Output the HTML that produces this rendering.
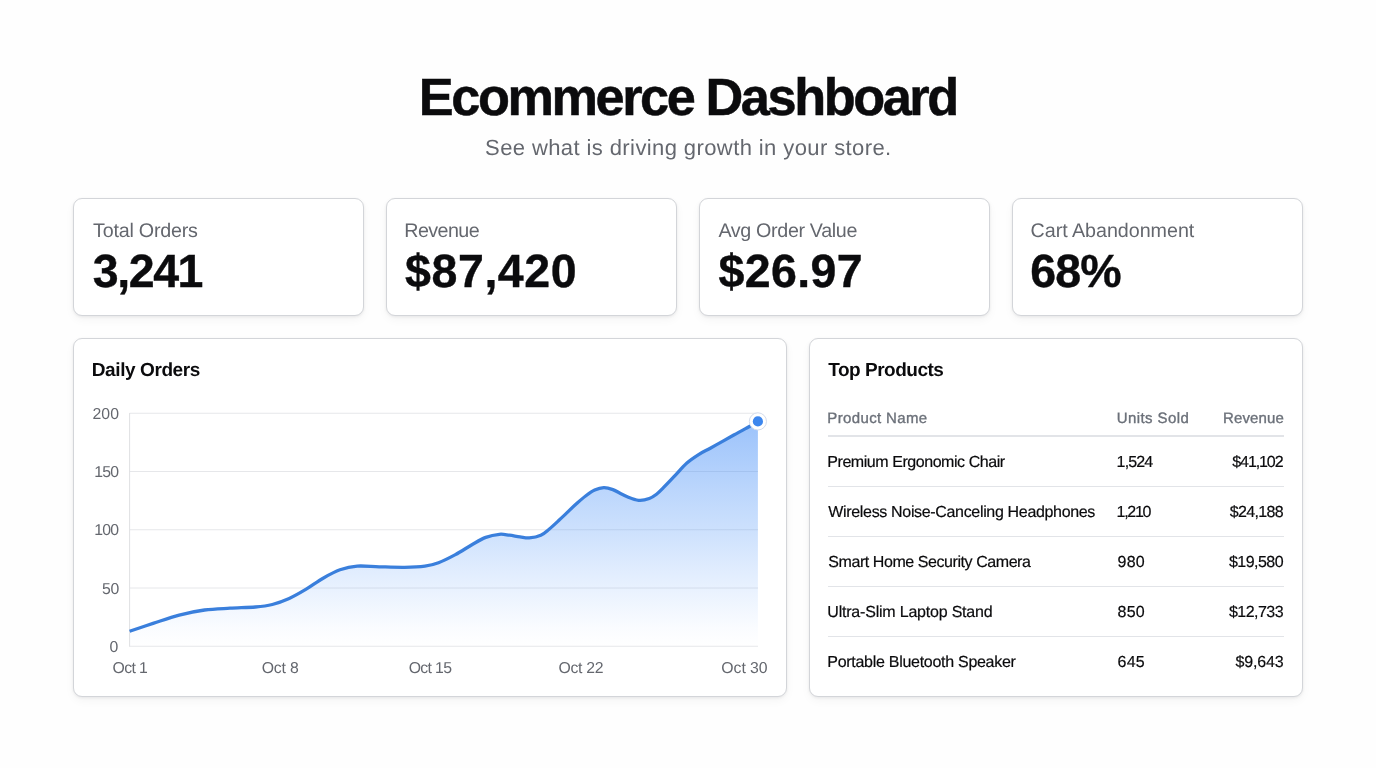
<!DOCTYPE html>
<html lang="en"><head><meta charset="utf-8"><title>Ecommerce Dashboard</title>
<style>
*{box-sizing:border-box;margin:0;padding:0}
html,body{width:1376px;height:768px;overflow:hidden;background:#fefefe;font-family:"Liberation Sans",sans-serif;text-rendering:geometricPrecision;}
.card{position:absolute;background:#fff;border:1px solid #d3d5d9;border-radius:9px;box-shadow:0 1px 3px rgba(20,20,30,0.07),0 4px 10px rgba(20,20,30,0.04);}
.t{position:absolute;white-space:nowrap;}
#txt{position:absolute;left:0;top:0;width:1376px;height:768px;will-change:transform;}
.rl{position:absolute;left:828px;width:456px;background:#e2e4e8;}
svg{position:absolute;left:0;top:0;}
</style></head><body>
<div class="card" style="left:73px;top:198px;width:291px;height:118px"></div>
<div class="card" style="left:385.6px;top:198px;width:291px;height:118px"></div>
<div class="card" style="left:698.6px;top:198px;width:291px;height:118px"></div>
<div class="card" style="left:1012px;top:198px;width:291px;height:118px"></div>
<div class="card" style="left:73px;top:338px;width:713.7px;height:359px"></div>
<div class="card" style="left:808.7px;top:338px;width:494.3px;height:359px"></div>
<svg width="1376" height="768" viewBox="0 0 1376 768">
<defs><linearGradient id="g" gradientUnits="userSpaceOnUse" x1="0" y1="421" x2="0" y2="646.2">
<stop offset="0" stop-color="#3f8af7" stop-opacity="0.52"/><stop offset="0.5" stop-color="#4a92f8" stop-opacity="0.27"/><stop offset="0.92" stop-color="#5a9bf9" stop-opacity="0.03"/><stop offset="1" stop-color="#5a9bf9" stop-opacity="0.0"/></linearGradient></defs>
<line x1="129.6" y1="413.25" x2="758.0" y2="413.25" stroke="#e6e7ea" stroke-width="1"/>
<line x1="129.6" y1="471.50" x2="758.0" y2="471.50" stroke="#e6e7ea" stroke-width="1"/>
<line x1="129.6" y1="529.75" x2="758.0" y2="529.75" stroke="#e6e7ea" stroke-width="1"/>
<line x1="129.6" y1="588.00" x2="758.0" y2="588.00" stroke="#e6e7ea" stroke-width="1"/>
<line x1="129.6" y1="646.25" x2="758.0" y2="646.25" stroke="#e6e7ea" stroke-width="1"/>
<line x1="129.6" y1="413" x2="129.6" y2="646.7" stroke="#dfe0e3" stroke-width="1"/>
<path d="M129.6,631.2 C133.6,629.9 145.5,625.8 153.8,623.1 C162.1,620.4 170.7,617.3 179.2,615.1 C187.7,612.9 196.1,611.1 204.6,610.0 C213.1,608.9 221.5,608.7 230.0,608.2 C238.5,607.7 248.3,607.6 255.4,607.0 C262.4,606.4 266.7,605.9 272.3,604.5 C277.9,603.1 283.6,601.0 289.2,598.5 C294.8,596.0 300.5,592.6 306.2,589.2 C311.9,585.8 317.5,581.4 323.1,578.2 C328.7,575.0 334.3,571.8 340.0,569.8 C345.7,567.8 350.7,566.6 357.2,566.1 C363.7,565.6 371.3,566.6 379.2,566.8 C387.1,567.0 397.0,567.4 404.6,567.3 C412.2,567.2 419.2,566.9 424.9,566.1 C430.5,565.3 433.4,564.6 438.5,562.7 C443.6,560.8 449.8,557.6 455.4,554.6 C461.0,551.6 467.2,547.4 472.3,544.5 C477.4,541.6 481.3,539.1 485.8,537.4 C490.3,535.7 495.4,534.7 499.4,534.3 C503.3,533.9 506.1,534.8 509.5,535.2 C512.9,535.6 516.7,536.5 520.0,536.9 C523.3,537.3 525.7,538.2 529.2,537.9 C532.7,537.6 537.5,536.7 540.8,535.2 C544.1,533.8 546.2,531.6 549.1,529.2 C552.0,526.8 555.2,523.8 558.2,521.0 C561.2,518.2 564.3,515.3 567.3,512.4 C570.3,509.5 573.3,506.4 576.4,503.7 C579.5,501.0 582.5,498.3 585.6,496.0 C588.7,493.7 591.7,491.5 594.7,490.1 C597.7,488.7 600.8,487.7 603.8,487.6 C606.8,487.5 609.9,488.5 612.9,489.6 C615.9,490.7 619.0,492.8 622.0,494.2 C625.0,495.6 628.1,497.3 631.1,498.3 C634.1,499.3 637.2,500.4 640.2,500.4 C643.2,500.4 646.6,499.5 649.3,498.5 C652.0,497.5 654.1,496.0 656.5,494.2 C658.9,492.4 660.3,490.8 663.4,487.6 C666.5,484.5 671.3,479.4 675.2,475.3 C679.1,471.2 683.0,466.4 686.9,463.0 C690.8,459.6 694.7,457.1 698.6,454.6 C702.5,452.1 706.4,450.4 710.3,448.2 C714.2,446.0 718.2,443.8 722.1,441.6 C726.0,439.4 729.9,437.2 733.8,435.0 C737.7,432.8 741.5,430.9 745.5,428.6 C749.5,426.4 755.8,422.7 757.9,421.5 L757.9,646.2 L129.6,646.2 Z" fill="url(#g)"/>
<path d="M129.6,631.2 C133.6,629.9 145.5,625.8 153.8,623.1 C162.1,620.4 170.7,617.3 179.2,615.1 C187.7,612.9 196.1,611.1 204.6,610.0 C213.1,608.9 221.5,608.7 230.0,608.2 C238.5,607.7 248.3,607.6 255.4,607.0 C262.4,606.4 266.7,605.9 272.3,604.5 C277.9,603.1 283.6,601.0 289.2,598.5 C294.8,596.0 300.5,592.6 306.2,589.2 C311.9,585.8 317.5,581.4 323.1,578.2 C328.7,575.0 334.3,571.8 340.0,569.8 C345.7,567.8 350.7,566.6 357.2,566.1 C363.7,565.6 371.3,566.6 379.2,566.8 C387.1,567.0 397.0,567.4 404.6,567.3 C412.2,567.2 419.2,566.9 424.9,566.1 C430.5,565.3 433.4,564.6 438.5,562.7 C443.6,560.8 449.8,557.6 455.4,554.6 C461.0,551.6 467.2,547.4 472.3,544.5 C477.4,541.6 481.3,539.1 485.8,537.4 C490.3,535.7 495.4,534.7 499.4,534.3 C503.3,533.9 506.1,534.8 509.5,535.2 C512.9,535.6 516.7,536.5 520.0,536.9 C523.3,537.3 525.7,538.2 529.2,537.9 C532.7,537.6 537.5,536.7 540.8,535.2 C544.1,533.8 546.2,531.6 549.1,529.2 C552.0,526.8 555.2,523.8 558.2,521.0 C561.2,518.2 564.3,515.3 567.3,512.4 C570.3,509.5 573.3,506.4 576.4,503.7 C579.5,501.0 582.5,498.3 585.6,496.0 C588.7,493.7 591.7,491.5 594.7,490.1 C597.7,488.7 600.8,487.7 603.8,487.6 C606.8,487.5 609.9,488.5 612.9,489.6 C615.9,490.7 619.0,492.8 622.0,494.2 C625.0,495.6 628.1,497.3 631.1,498.3 C634.1,499.3 637.2,500.4 640.2,500.4 C643.2,500.4 646.6,499.5 649.3,498.5 C652.0,497.5 654.1,496.0 656.5,494.2 C658.9,492.4 660.3,490.8 663.4,487.6 C666.5,484.5 671.3,479.4 675.2,475.3 C679.1,471.2 683.0,466.4 686.9,463.0 C690.8,459.6 694.7,457.1 698.6,454.6 C702.5,452.1 706.4,450.4 710.3,448.2 C714.2,446.0 718.2,443.8 722.1,441.6 C726.0,439.4 729.9,437.2 733.8,435.0 C737.7,432.8 741.5,430.9 745.5,428.6 C749.5,426.4 755.8,422.7 757.9,421.5" fill="none" stroke="#3a7fdc" stroke-width="3.3" stroke-linecap="butt" stroke-linejoin="round"/>
<circle cx="757.9" cy="421.4" r="8.6" fill="#fff" stroke="#d4dcec" stroke-width="1"/>
<circle cx="757.9" cy="421.4" r="5.1" fill="#3d87ee"/>
</svg>
<div class="rl" style="top:435.35px;height:1.5px"></div>
<div class="rl" style="top:485.80px;height:1.0px"></div>
<div class="rl" style="top:536.00px;height:1.0px"></div>
<div class="rl" style="top:586.10px;height:1.0px"></div>
<div class="rl" style="top:636.40px;height:1.0px"></div>

<div id="txt">
<header class="header">
<h1 class="t" style="left:418.80px;top:72px;font-size:52.3px;line-height:52.3px;font-weight:700;color:#0b0b0d;letter-spacing:-2.433px;-webkit-text-stroke:0.5px #0b0b0d;">Ecommerce Dashboard</h1>
<p class="t" style="left:485.10px;top:137px;font-size:22px;line-height:22px;font-weight:400;color:#64676e;letter-spacing:0.400px;">See what is driving growth in your store.</p>
</header>
<section class="stats">
<div class="t" style="left:93.10px;top:222px;font-size:19.7px;line-height:19.7px;font-weight:400;color:#64676e;letter-spacing:-0.218px;">Total Orders</div>
<div class="t" style="left:404.30px;top:222px;font-size:19.7px;line-height:19.7px;font-weight:400;color:#64676e;letter-spacing:-0.583px;">Revenue</div>
<div class="t" style="left:718.40px;top:222px;font-size:19.7px;line-height:19.7px;font-weight:400;color:#64676e;letter-spacing:-0.336px;">Avg Order Value</div>
<div class="t" style="left:1030.60px;top:222px;font-size:19.7px;line-height:19.7px;font-weight:400;color:#64676e;letter-spacing:-0.033px;">Cart Abandonment</div>
<div class="t" style="left:92.80px;top:248px;font-size:46.5px;line-height:46.5px;font-weight:700;color:#0b0b0d;letter-spacing:-1.425px;-webkit-text-stroke:0.4px #0b0b0d;">3,241</div>
<div class="t" style="left:405.10px;top:248px;font-size:46.5px;line-height:46.5px;font-weight:700;color:#0b0b0d;letter-spacing:0.567px;-webkit-text-stroke:0.4px #0b0b0d;">$87,420</div>
<div class="t" style="left:718.60px;top:248px;font-size:46.5px;line-height:46.5px;font-weight:700;color:#0b0b0d;letter-spacing:0.360px;-webkit-text-stroke:0.4px #0b0b0d;">$26.97</div>
<div class="t" style="left:1030.20px;top:248px;font-size:46.5px;line-height:46.5px;font-weight:700;color:#0b0b0d;letter-spacing:-0.850px;-webkit-text-stroke:0.4px #0b0b0d;">68%</div>
</section>
<section class="chart">
<h2 class="t" style="left:91.80px;top:361px;font-size:19px;line-height:19px;font-weight:700;color:#0b0b0d;letter-spacing:-0.409px;">Daily Orders</h2>
<span class="t" style="left:92.50px;top:407px;font-size:15.8px;line-height:15.8px;font-weight:400;color:#64676e;letter-spacing:0.050px;">200</span>
<span class="t" style="left:94.20px;top:465px;font-size:15.8px;line-height:15.8px;font-weight:400;color:#64676e;letter-spacing:-0.800px;">150</span>
<span class="t" style="left:94.20px;top:523px;font-size:15.8px;line-height:15.8px;font-weight:400;color:#64676e;letter-spacing:-0.800px;">100</span>
<span class="t" style="left:102.00px;top:582px;font-size:15.8px;line-height:15.8px;font-weight:400;color:#64676e;letter-spacing:-0.400px;">50</span>
<span class="t" style="left:109.60px;top:640px;font-size:15.8px;line-height:15.8px;font-weight:400;color:#64676e;">0</span>
<span class="t" style="left:112.60px;top:661px;font-size:15.8px;line-height:15.8px;font-weight:400;color:#64676e;letter-spacing:-0.625px;">Oct 1</span>
<span class="t" style="left:261.70px;top:661px;font-size:15.8px;line-height:15.8px;font-weight:400;color:#64676e;letter-spacing:-0.150px;">Oct 8</span>
<span class="t" style="left:408.70px;top:661px;font-size:15.8px;line-height:15.8px;font-weight:400;color:#64676e;letter-spacing:-0.660px;">Oct 15</span>
<span class="t" style="left:558.40px;top:661px;font-size:15.8px;line-height:15.8px;font-weight:400;color:#64676e;letter-spacing:-0.260px;">Oct 22</span>
<span class="t" style="left:721.30px;top:661px;font-size:15.8px;line-height:15.8px;font-weight:400;color:#64676e;letter-spacing:-0.040px;">Oct 30</span>
</section>
<section class="products">
<h2 class="t" style="left:828.30px;top:361px;font-size:19px;line-height:19px;font-weight:700;color:#0b0b0d;letter-spacing:-0.491px;">Top Products</h2>
<div class="t" style="left:827.30px;top:411px;font-size:15px;line-height:15px;font-weight:400;color:#6b7079;letter-spacing:0.364px;-webkit-text-stroke:0.35px #6b7079;">Product Name</div>
<div class="t" style="left:1116.70px;top:411px;font-size:15px;line-height:15px;font-weight:400;color:#6b7079;letter-spacing:0.422px;-webkit-text-stroke:0.35px #6b7079;">Units Sold</div>
<div class="t" style="left:1223.10px;top:411px;font-size:15px;line-height:15px;font-weight:400;color:#6b7079;letter-spacing:0.100px;-webkit-text-stroke:0.35px #6b7079;">Revenue</div>
<div class="t" style="left:827.30px;top:455px;font-size:16px;line-height:16px;font-weight:400;color:#0b0b0d;letter-spacing:-0.445px;-webkit-text-stroke:0.2px #0b0b0d;">Premium Ergonomic Chair</div>
<div class="t" style="left:1116.60px;top:455px;font-size:16px;line-height:16px;font-weight:400;color:#0b0b0d;letter-spacing:-0.850px;-webkit-text-stroke:0.2px #0b0b0d;">1,524</div>
<div class="t" style="left:1232.30px;top:455px;font-size:16px;line-height:16px;font-weight:400;color:#0b0b0d;letter-spacing:-1.100px;-webkit-text-stroke:0.2px #0b0b0d;">$41,102</div>
<div class="t" style="left:828.30px;top:505px;font-size:16px;line-height:16px;font-weight:400;color:#0b0b0d;letter-spacing:-0.332px;-webkit-text-stroke:0.2px #0b0b0d;">Wireless Noise-Canceling Headphones</div>
<div class="t" style="left:1116.60px;top:505px;font-size:16px;line-height:16px;font-weight:400;color:#0b0b0d;letter-spacing:-1.300px;-webkit-text-stroke:0.2px #0b0b0d;">1,210</div>
<div class="t" style="left:1229.80px;top:505px;font-size:16px;line-height:16px;font-weight:400;color:#0b0b0d;letter-spacing:-0.683px;-webkit-text-stroke:0.2px #0b0b0d;">$24,188</div>
<div class="t" style="left:828.30px;top:555px;font-size:16px;line-height:16px;font-weight:400;color:#0b0b0d;letter-spacing:-0.432px;-webkit-text-stroke:0.2px #0b0b0d;">Smart Home Security Camera</div>
<div class="t" style="left:1117.60px;top:555px;font-size:16px;line-height:16px;font-weight:400;color:#0b0b0d;letter-spacing:0.200px;-webkit-text-stroke:0.2px #0b0b0d;">980</div>
<div class="t" style="left:1229.00px;top:555px;font-size:16px;line-height:16px;font-weight:400;color:#0b0b0d;letter-spacing:-0.550px;-webkit-text-stroke:0.2px #0b0b0d;">$19,580</div>
<div class="t" style="left:827.30px;top:605px;font-size:16px;line-height:16px;font-weight:400;color:#0b0b0d;letter-spacing:-0.205px;-webkit-text-stroke:0.2px #0b0b0d;">Ultra-Slim Laptop Stand</div>
<div class="t" style="left:1117.60px;top:605px;font-size:16px;line-height:16px;font-weight:400;color:#0b0b0d;letter-spacing:0.200px;-webkit-text-stroke:0.2px #0b0b0d;">850</div>
<div class="t" style="left:1229.00px;top:605px;font-size:16px;line-height:16px;font-weight:400;color:#0b0b0d;letter-spacing:-0.550px;-webkit-text-stroke:0.2px #0b0b0d;">$12,733</div>
<div class="t" style="left:827.30px;top:655px;font-size:16px;line-height:16px;font-weight:400;color:#0b0b0d;letter-spacing:-0.284px;-webkit-text-stroke:0.2px #0b0b0d;">Portable Bluetooth Speaker</div>
<div class="t" style="left:1117.60px;top:655px;font-size:16px;line-height:16px;font-weight:400;color:#0b0b0d;letter-spacing:0.200px;-webkit-text-stroke:0.2px #0b0b0d;">645</div>
<div class="t" style="left:1235.40px;top:655px;font-size:16px;line-height:16px;font-weight:400;color:#0b0b0d;letter-spacing:-0.140px;-webkit-text-stroke:0.2px #0b0b0d;">$9,643</div>
</section>
</div>
</body></html>
